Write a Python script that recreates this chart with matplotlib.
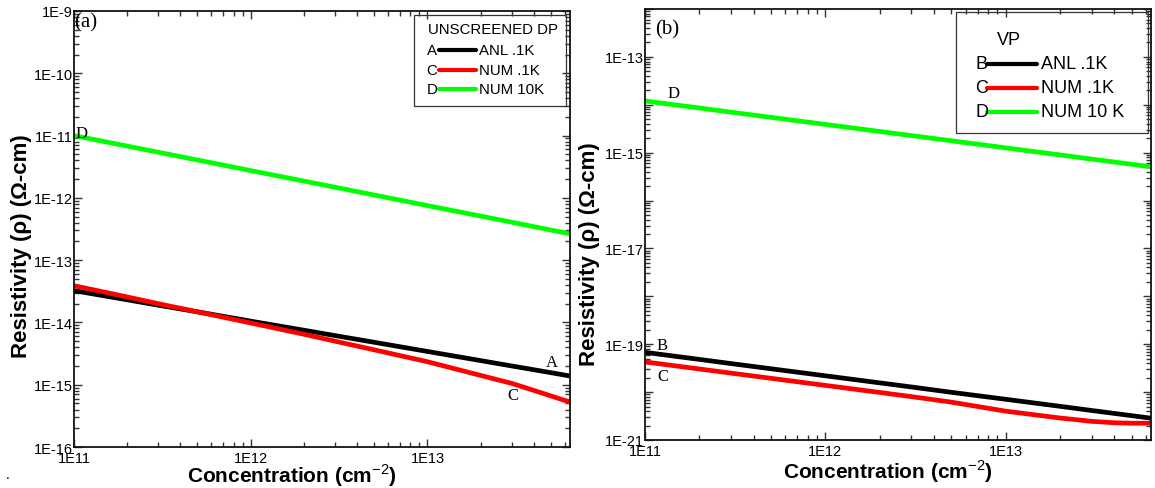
import matplotlib
matplotlib.use("Agg")
import matplotlib.pyplot as plt
from matplotlib.lines import Line2D
from matplotlib.patches import Rectangle
from matplotlib.ticker import FuncFormatter, LogLocator, NullFormatter
import numpy as np

plt.rcParams["font.family"] = ["Liberation Sans", "DejaVu Sans"]
plt.rcParams["mathtext.fontset"] = "custom"
plt.rcParams["mathtext.rm"] = "Liberation Sans"
plt.rcParams["mathtext.bf"] = "Liberation Sans:bold"

# concentration (cm^-2), shared by both panels
conc = [1e11, 2e11, 3e11, 5e11, 1e12, 2e12, 3e12, 5e12,
        1e13, 2e13, 3e13, 4e13, 5e13, 6.4e13]

# (a) unscreened deformation potential
dp_anl_01k = [3.24e-14, 2.31e-14, 1.89e-14, 1.48e-14, 1.05e-14, 7.5e-15, 6.15e-15,
              4.8e-15, 3.42e-15, 2.44e-15, 2.0e-15, 1.74e-15, 1.56e-15, 1.38e-15]
dp_num_01k = [3.89e-14, 2.57e-14, 2.0e-14, 1.48e-14, 9.8e-15, 6.46e-15, 5.0e-15,
              3.63e-15, 2.34e-15, 1.41e-15, 1.05e-15, 8.1e-16, 6.6e-16, 5.25e-16]
dp_num_10k = [1.0e-11, 6.78e-12, 5.4e-12, 4.05e-12, 2.74e-12, 1.86e-12, 1.48e-12,
              1.11e-12, 7.5e-13, 5.1e-13, 4.06e-13, 3.45e-13, 3.04e-13, 2.65e-13]

# (b) VP
vp_anl_01k = [6.76e-20, 4.82e-20, 3.94e-20, 3.07e-20, 2.19e-20, 1.56e-20, 1.28e-20,
              9.9e-21, 7.08e-21, 5.05e-21, 4.13e-21, 3.59e-21, 3.22e-21, 2.85e-21]
vp_num_01k = [4.27e-20, 3.04e-20, 2.49e-20, 1.94e-20, 1.38e-20, 9.84e-21, 8.05e-21,
              6.17e-21, 4.0e-21, 2.88e-21, 2.45e-21, 2.29e-21, 2.24e-21, 2.24e-21]
vp_num_10k = [1.2e-14, 8.57e-15, 7.0e-15, 5.46e-15, 3.89e-15, 2.77e-15, 2.27e-15,
              1.77e-15, 1.26e-15, 8.97e-16, 7.34e-16, 6.38e-16, 5.72e-16, 5.07e-16]

legend_a = ["ANL .1K", "NUM .1K", "NUM 10K"]
legend_b = ["ANL .1K", "NUM .1K", "NUM 10 K"]
colors = ["black", "red", "#00ff00"]
LW = 3.4


def sci_fmt(v, pos, skip_even=False):
    e = int(round(np.log10(v)))
    if skip_even and e % 2 == 0:
        return ""
    return f"1E{e}"


def style_axes(ax, ylim, skip_even=False):
    ax.set_xscale("log")
    ax.set_yscale("log")
    ax.set_xlim(conc[0], conc[-1])
    ax.set_ylim(*ylim)
    ax.xaxis.set_major_locator(LogLocator(base=10, numticks=20))
    ax.xaxis.set_minor_locator(LogLocator(base=10, subs=np.arange(2, 10), numticks=50))
    ax.yaxis.set_major_locator(LogLocator(base=10, numticks=30))
    ax.yaxis.set_minor_locator(LogLocator(base=10, subs=np.arange(2, 10), numticks=100))
    ax.xaxis.set_major_formatter(FuncFormatter(lambda v, p: sci_fmt(v, p)))
    ax.yaxis.set_major_formatter(FuncFormatter(lambda v, p: sci_fmt(v, p, skip_even)))
    ax.xaxis.set_minor_formatter(NullFormatter())
    ax.yaxis.set_minor_formatter(NullFormatter())
    ax.tick_params(which="both", direction="in", top=True, right=True, width=1.0,
                   labelsize=10.5, color="#333333")
    ax.tick_params(which="major", length=6)
    ax.tick_params(which="minor", length=3.5)
    ax.tick_params(axis="x", pad=3)
    ax.tick_params(axis="y", pad=1)
    for sp in ax.spines.values():
        sp.set_linewidth(1.3)
        sp.set_color("#111111")


def draw_key(ax, box, title, title_xy, rows, letters, labels, fs):
    x0, y0, x1, y1 = box
    ax.add_patch(Rectangle((x0, y0), x1 - x0, y1 - y0, transform=ax.transAxes,
                           fill=False, lw=0.9, edgecolor="#333333", zorder=5))
    ax.text(title_xy[0], title_xy[1], title, transform=ax.transAxes, fontsize=fs,
            va="center", ha="left")
    lx, l0, l1, tx = rows["lx"], rows["l0"], rows["l1"], rows["tx"]
    for y, let, lab, c in zip(rows["ys"], letters, labels, colors):
        ax.text(lx, y, let, transform=ax.transAxes, fontsize=fs, va="center", ha="left")
        ax.add_line(Line2D([l0, l1], [y, y], transform=ax.transAxes, color=c, lw=3.0,
                           solid_capstyle="round"))
        ax.text(tx, y, lab, transform=ax.transAxes, fontsize=fs, va="center", ha="left")


fig = plt.figure(figsize=(11.55, 4.89), dpi=100)
ax_a = fig.add_axes([0.064, 0.0838, 0.4295, 0.8917])
ax_b = fig.add_axes([0.5584, 0.0982, 0.4381, 0.8814])
serif = ["Liberation Serif", "DejaVu Serif"]
ylab = "Resistivity (\u03c1) (\u03a9-cm)"
xlab = "Concentration (cm$^{-2}$)"

# panel (a)
ax_a.plot(conc, dp_num_10k, color=colors[2], lw=LW)
ax_a.plot(conc, dp_anl_01k, color=colors[0], lw=LW)
ax_a.plot(conc, dp_num_01k, color=colors[1], lw=LW)
style_axes(ax_a, (1e-16, 1e-9))
ax_a.set_xlabel(xlab, fontsize=15, fontweight="bold")
ax_a.xaxis.set_label_coords(0.44, -0.034)
ax_a.set_ylabel(ylab, fontsize=16, fontweight="bold")
ax_a.yaxis.set_label_coords(-0.085, 0.463)
ax_a.text(0.0, 0.975, "(a)", transform=ax_a.transAxes, family=serif, fontsize=15,
          va="center", ha="left")
ax_a.text(0.004, 0.72, "D", transform=ax_a.transAxes, family=serif, fontsize=12,
          va="center", ha="left")
ax_a.text(0.952, 0.195, "A", transform=ax_a.transAxes, family=serif, fontsize=12,
          va="center", ha="left")
ax_a.text(0.873, 0.12, "C", transform=ax_a.transAxes, family=serif, fontsize=12,
          va="center", ha="left")
draw_key(ax_a, (0.685, 0.782, 0.991, 0.99), "UNSCREENED DP", (0.713, 0.958),
         {"ys": [0.91, 0.864, 0.82], "lx": 0.711, "l0": 0.735, "l1": 0.81, "tx": 0.816},
         ["A", "C", "D"], legend_a, 10.8)

# panel (b)
ax_b.plot(conc, vp_num_10k, color=colors[2], lw=LW)
ax_b.plot(conc, vp_anl_01k, color=colors[0], lw=LW)
ax_b.plot(conc, vp_num_01k, color=colors[1], lw=LW)
style_axes(ax_b, (1e-21, 1e-12), skip_even=True)
ax_b.set_xlabel(xlab, fontsize=15, fontweight="bold")
ax_b.xaxis.set_label_coords(0.48, -0.04)
ax_b.set_ylabel(ylab, fontsize=16, fontweight="bold")
ax_b.yaxis.set_label_coords(-0.088, 0.434)
ax_b.text(0.02, 0.955, "(b)", transform=ax_b.transAxes, family=serif, fontsize=15,
          va="center", ha="left")
ax_b.text(0.045, 0.805, "D", transform=ax_b.transAxes, family=serif, fontsize=12,
          va="center", ha="left")
ax_b.text(0.022, 0.22, "B", transform=ax_b.transAxes, family=serif, fontsize=12,
          va="center", ha="left")
ax_b.text(0.025, 0.148, "C", transform=ax_b.transAxes, family=serif, fontsize=12,
          va="center", ha="left")
draw_key(ax_b, (0.615, 0.713, 0.995, 0.993), "VP", (0.695, 0.93),
         {"ys": [0.873, 0.817, 0.762], "lx": 0.653, "l0": 0.675, "l1": 0.775, "tx": 0.783},
         ["B", "C", "D"], legend_b, 13)

fig.text(0.005, 0.02, ".", fontsize=10)
fig.savefig("out.png", dpi=100)
